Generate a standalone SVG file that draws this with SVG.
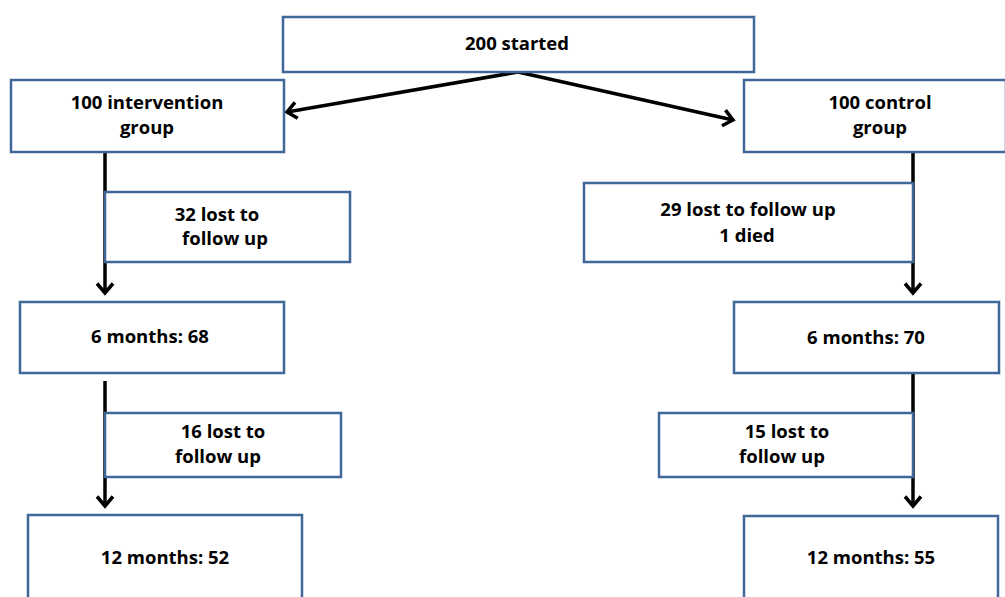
<svg xmlns="http://www.w3.org/2000/svg" width="1005" height="597" viewBox="0 0 1005 597">
<defs>
<style>
.box{fill:#fff;stroke:#3f6797;stroke-width:2.5}
.t{font-family:"Open Sans","Noto Sans","Liberation Sans",sans-serif;font-weight:bold;font-size:18.5px;fill:#000;text-anchor:middle}
.c{stroke:#000;stroke-width:3.5;fill:none}
</style>
<marker id="arr" markerUnits="userSpaceOnUse" markerWidth="20" markerHeight="20" viewBox="-10 -10 20 20" refX="0" refY="0" orient="auto" overflow="visible">
<path d="M-9.5,-8 L0,0 L-9.5,8" fill="none" stroke="#000" stroke-width="3.5"/>
</marker>
</defs>
<rect width="1005" height="597" fill="#fff"/>
<g id="connectors">
<line class="c" x1="518" y1="72" x2="287" y2="112" marker-end="url(#arr)"/>
<line class="c" x1="518" y1="72" x2="733" y2="120" marker-end="url(#arr)"/>
<line class="c" x1="105" y1="152" x2="105" y2="293" marker-end="url(#arr)"/>
<line class="c" x1="913" y1="152" x2="913" y2="293" marker-end="url(#arr)"/>
<line class="c" x1="105" y1="381" x2="105" y2="506" marker-end="url(#arr)"/>
<line class="c" x1="913" y1="373" x2="913" y2="506" marker-end="url(#arr)"/>
</g>
<g id="start">
<rect class="box" x="283" y="17" width="471" height="55"/>
<text class="t" x="517" y="50">200 started</text>
</g>
<g id="intervention">
<rect class="box" x="11" y="80" width="273" height="72"/>
<text class="t" x="147" y="109">100 intervention</text>
<text class="t" x="147" y="134">group</text>
</g>
<g id="control">
<rect class="box" x="744" y="80" width="262" height="72"/>
<text class="t" x="880" y="109">100 control</text>
<text class="t" x="880" y="134">group</text>
</g>
<g id="lost32">
<rect class="box" x="105" y="192" width="245" height="70"/>
<text class="t" x="217" y="221">32 lost to</text>
<text class="t" x="225" y="245">follow up</text>
</g>
<g id="lost29">
<rect class="box" x="584" y="183" width="329" height="79"/>
<text class="t" x="748" y="216">29 lost to follow up</text>
<text class="t" x="747" y="242">1 died</text>
</g>
<g id="m6i">
<rect class="box" x="20" y="302" width="264" height="71"/>
<text class="t" x="150" y="343">6 months: 68</text>
</g>
<g id="m6c">
<rect class="box" x="734" y="302" width="265" height="71"/>
<text class="t" x="866" y="344">6 months: 70</text>
</g>
<g id="lost16">
<rect class="box" x="105" y="413" width="236" height="64"/>
<text class="t" x="223" y="438">16 lost to</text>
<text class="t" x="218" y="463">follow up</text>
</g>
<g id="lost15">
<rect class="box" x="659" y="413" width="254" height="64"/>
<text class="t" x="787" y="438">15 lost to</text>
<text class="t" x="782" y="463">follow up</text>
</g>
<g id="m12i">
<rect class="box" x="28" y="515" width="274" height="100"/>
<text class="t" x="165" y="564">12 months: 52</text>
</g>
<g id="m12c">
<rect class="box" x="744" y="516" width="254" height="100"/>
<text class="t" x="871" y="564">12 months: 55</text>
</g>
</svg>
